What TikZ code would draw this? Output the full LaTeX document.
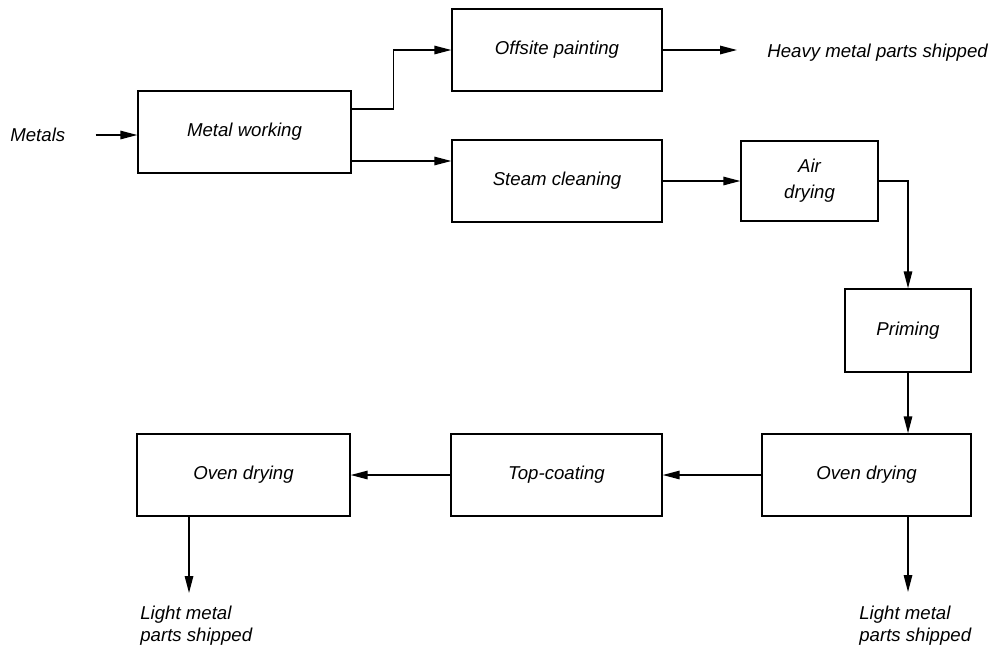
\documentclass[tikz,border=0pt]{standalone}
\usepackage{fontspec}
\setmainfont{Liberation Sans}
\usetikzlibrary{arrows.meta}
\tikzset{
  pf box/.style={draw, line width=0.8pt, inner sep=2pt, align=center, font=\itshape\fontsize{10.6}{15}\selectfont},
  pf text/.style={inner sep=0pt, align=left, font=\itshape\fontsize{10.6}{12.5}\selectfont},
  pf flow/.style={draw, line width=0.8pt, -{Triangle[length=3.4mm, width=1.7mm]}},
}

\begin{document}
\begin{tikzpicture}[x=0.02cm, y=-0.02cm]
  \useasboundingbox (0,0) rectangle (997,650);

  % Process boxes (pixel grid of the sheet)
  \node[pf box, minimum width=4.26cm, minimum height=1.64cm] (mw) at (244.5,132) {Metal working};
  \node[pf box, minimum width=4.2cm, minimum height=1.64cm] (op) at (557,50) {Offsite painting};
  \node[pf box, minimum width=4.2cm, minimum height=1.64cm] (sc) at (557,181) {Steam cleaning};
  \node[pf box, minimum width=2.74cm, minimum height=1.6cm] (ad) at (809.5,181) {Air\\drying};
  \node[pf box, minimum width=2.52cm, minimum height=1.66cm] (pr) at (908,330.5) {Priming};
  \node[pf box, minimum width=4.18cm, minimum height=1.64cm] (odr) at (866.6,475) {Oven drying};
  \node[pf box, minimum width=4.22cm, minimum height=1.64cm] (tc) at (556.5,475) {Top-coating};
  \node[pf box, minimum width=4.26cm, minimum height=1.64cm] (odl) at (243.5,475) {Oven drying};

  % Inputs and outputs
  \node[pf text, anchor=west] (met) at (10,135) {Metals};
  \node[pf text, anchor=west] (hv) at (767,53) {Heavy metal parts shipped};
  \node[pf text, anchor=north west] (ll) at (140,606) {Light metal\\parts shipped};
  \node[pf text, anchor=north west] (lr) at (859,606) {Light metal\\parts shipped};
  \coordinate (mwhi) at ([yshift=0.46cm]mw.east);
  \coordinate (mwlo) at ([yshift=-0.58cm]mw.east);
  \coordinate (odlout) at ([xshift=-1.09cm]odl.south);
  \coordinate (llend) at (189,593);
  \coordinate (lrend) at (908,592);

  % Flows
  \draw[pf flow, shorten <=6mm] (met.east) -- (met.east -| mw.west);
  \draw[pf flow] (mwhi) -- ++(42,0) |- (op.west);
  \draw[pf flow] (mwlo) -- (mwlo -| sc.west);
  \draw[pf flow, shorten >=6mm] (op.east) -- (op.east -| hv.west);
  \draw[pf flow] (sc.east) -- (ad.west);
  \draw[pf flow] (ad.east) -| (pr.north);
  \draw[pf flow] (pr.south) -- (pr.south |- odr.north);
  \draw[pf flow] (odr.west) -- (odr.west -| tc.east);
  \draw[pf flow] (tc.west) -- (tc.west -| odl.east);
  \draw[pf flow] (odlout) -- (odlout |- llend);
  \draw[pf flow] (pr.south |- odr.south) -- (pr.south |- lrend);
\end{tikzpicture}
\end{document}
